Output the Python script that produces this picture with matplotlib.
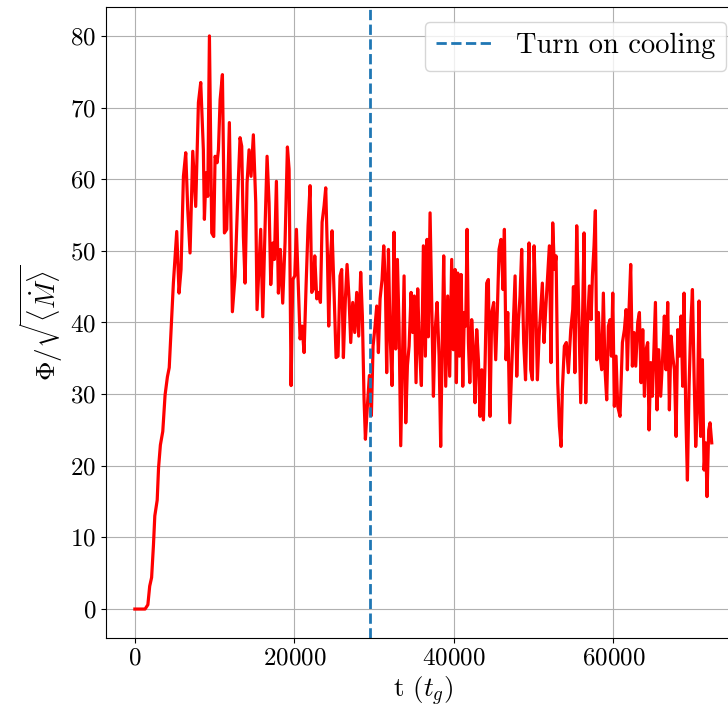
import matplotlib
matplotlib.use("Agg")
import matplotlib.pyplot as plt

plt.rcParams['font.family'] = 'serif'
plt.rcParams['font.serif'] = ['cmr10']
plt.rcParams['mathtext.fontset'] = 'cm'
plt.rcParams['axes.formatter.use_mathtext'] = True
plt.rcParams['font.size'] = 18

# time (t_g) and flux values
t_data = [
    0, 1280, 1630, 1860, 2100, 2330, 2500, 2800, 2970, 3200, 3500, 3790, 4080, 4310, 4540,
    4830, 5250, 5540, 5790, 6090, 6380, 6630, 6920, 7260, 7630, 7970, 8260, 8590, 8720,
    8930, 9140, 9350, 9640, 9890, 10060, 10310, 10480, 10690, 10980, 11230, 11520, 11850,
    12230, 12560, 12980, 13190, 13400, 13610, 13820, 14070, 14320, 14570, 14860, 15160,
    15320, 15580, 15780, 16040, 16330, 16580, 16830, 17040, 17290, 17500, 17750, 18000,
    18250, 18540,
    18835, 19130, 19340, 19590, 19800, 20050, 20260, 20500, 20720, 20970, 21220, 21470,
    21720, 21970, 22180, 22390, 22560, 22810, 23060, 23270, 23480, 23730, 23935, 24140,
    24310, 24520, 24730, 24980, 25230, 25480, 25730, 25940, 26150, 26400, 26610, 26860,
    27070, 27320, 27570, 27820, 28070, 28320, 28530, 28740, 28910, 29160, 29410, 29660,
    29870, 30120, 30330, 30540, 30750, 31000, 31210, 31420, 31580, 31800, 32000, 32250,
    32500, 32710, 32920, 33130, 33340, 33550, 33760, 33970, 34180, 34390, 34640, 34840,
    35050, 35260, 35470, 35680, 35930, 36180, 36430,
    36640, 36800, 37020, 37230, 37440, 37640, 37900, 38150, 38350, 38560, 38730, 38980,
    39230, 39480, 39730, 39940, 40150, 40320, 40490, 40700, 40910, 41120, 41320, 41490,
    41660, 41830, 42000, 42240, 42450, 42660, 42870, 43080, 43290, 43500, 43710, 43920,
    44120, 44330, 44540, 44750, 45000, 45250, 45460, 45670, 45920, 46170, 46340, 46550,
    46760, 47010, 47220, 47470, 47680, 47890, 48100, 48300, 48510, 48760, 48990, 49220,
    49430, 49640, 49850, 50060, 50270, 50480, 50690, 50900, 51100, 51310, 51520, 51770,
    51980, 52190, 52400, 52610, 52820, 53030, 53240, 53450, 53610, 53860, 54110, 54360,
    54660, 54910, 55000, 55180,
    55410, 55660, 55910, 56160, 56330, 56540, 56750, 57000, 57210, 57380, 57580, 57750,
    57920, 58130, 58340, 58540, 58750, 58960, 59170, 59380, 59590, 59760, 59930, 60130,
    60340, 60550, 60840, 61140, 61390, 61600, 61760, 61970, 62180, 62390, 62600, 62810,
    63060, 63270, 63480, 63690, 63900, 64100, 64310, 64480, 64690, 64900, 65110, 65280,
    65480, 65690, 65940, 66190, 66400, 66610, 66820, 67030, 67240, 67450, 67660, 67870,
    68080, 68280, 68490, 68700, 68870, 69080, 69290, 69500, 69710, 69920, 70130, 70330,
    70540, 70750, 70960, 71170, 71380, 71590, 71750, 71960, 72130, 72340,
]
phi_data = [
    0, 0, 0.6, 3.2, 4.4, 8.9, 13, 15.2, 19.7, 22.9, 24.8, 29.9, 32.4, 33.7, 39,
    45.5, 52.7, 44.1, 47.4, 60.4, 63.7, 55.8, 49.7, 63.9, 56.2, 70.7, 73.5, 64.1, 54.4,
    60.9, 57.6, 80, 52.5, 52, 63.2, 62.3, 64.1, 71.1, 74.6, 52.5, 53, 67.9,
    41.5, 46.4, 60, 65.8, 64.6, 52, 45.5, 59.5, 64.1, 60.4, 66.2, 56.7,
    41.8, 48.3, 53, 40.8, 53.4, 63.2, 56.7, 45.3, 51.1, 48.8, 59.7, 44.1,
    50.2, 42.7,
    51.2, 64.5, 61.4, 31.2, 46, 46.5, 53, 45.1, 37.7, 39.5, 35.8, 45.1,
    53.5, 59.1, 44.2, 44.7, 49.3, 43.3, 44.2, 42.8, 54, 56.3, 58.8, 49.8,
    39.5, 48.8, 52.8, 44.2, 35.1, 35.3, 46.5, 47.4, 35.1, 43.3, 48.1, 43.3,
    37.2, 42.8, 38.6, 44.2, 38.1, 47, 40.9, 29.3, 23.7, 28.4, 32.6, 27,
    36.7, 39.5, 42.3, 35.8, 43.3, 46, 50.7, 45.1, 33, 50.2, 38.6, 31.2,
    52.6, 36.3, 48.8, 39.5, 22.8, 34.9, 46.5, 26, 34, 36.7, 44.2, 38.6,
    43.7, 31.6, 44.7, 36.7, 31.2, 50.7, 35.3,
    51.6, 38, 55.3, 42.8, 29.7, 38.6, 42.8, 35.3, 22.7, 38.1, 49.3, 31.1,
    43.7, 32.5, 48.8, 36.2, 47.4, 31.6, 46.9, 35.3, 46.7, 31.1, 41.4, 39.5,
    53, 37.2, 31.6, 40.4, 36.2, 28.8, 39, 34.8, 26.9, 33.4, 26.4, 34.4,
    45.5, 46, 26.9, 41.4, 42.8, 34.8, 41.8, 50.2, 51.6, 44.6, 53, 34.8,
    41.4, 26, 32.5, 40, 46.5, 32.5, 40, 43.7, 50.2, 37.2, 32, 42.8,
    51.1, 33.4, 32, 50.7, 42.8, 32, 38.1, 41.8, 45.5, 37.2, 41.8, 46.5,
    50.7, 34.4, 53.9, 47.4, 49.3, 31.6, 25.5, 22.7, 30.6, 36.7, 37.2, 33,
    39, 41.8, 45, 33,
    53.5, 41.8, 28.8, 41.8, 52.5, 28.8, 39.5, 45.1, 40.4, 46.5, 50.7, 55.6,
    34.8, 41.4, 35.3, 33.4, 44.1, 33.4, 29.2, 39.5, 40.4, 35.3, 44.1, 28.3,
    35.3, 28.3, 26.9, 37.2, 39, 41.8, 33.4, 41.8, 48.1, 33.9, 38.6, 33.9,
    40, 41.4, 31.6, 39, 29.7, 36.2, 37.2, 25, 34.4, 29.7, 37.2, 42.8,
    27.8, 36.2, 29.7, 35.3, 40.9, 33.4, 42.8, 27.8, 38.1, 35.3, 33.4, 24.1,
    39, 35.3, 40.9, 31.1, 44.1, 27.8, 18, 31.1, 39.5, 44.6, 32.5, 22.7,
    27.8, 43, 24.1, 34.8, 19.4, 23.2, 15.7, 25, 26, 23.2,
]
t_cooling = 29500

fig = plt.figure(figsize=(7.28, 7.13), dpi=100)
ax = fig.add_axes([0.1456, 0.1056, 0.8717, 0.8842])

ax.plot(t_data, phi_data, color='red', lw=2.3)
ax.axvline(t_cooling, color='C0', ls='--', lw=2, label='Turn on cooling')

ax.set_xlim(-3620, 75960)
ax.set_ylim(-4, 84)
ax.set_xticks([0, 20000, 40000, 60000])
ax.set_yticks(range(0, 81, 10))
ax.grid(True)
ax.tick_params(labelsize=18)
ax.set_xlabel(r't ($t_g$)', fontsize=19.5)
ax.set_ylabel(r'$\Phi/\sqrt{\langle\dot{M}\rangle}$', fontsize=19.5)
ax.legend(loc='upper right', fontsize=20.5)

fig.savefig('out.png', dpi=100)
